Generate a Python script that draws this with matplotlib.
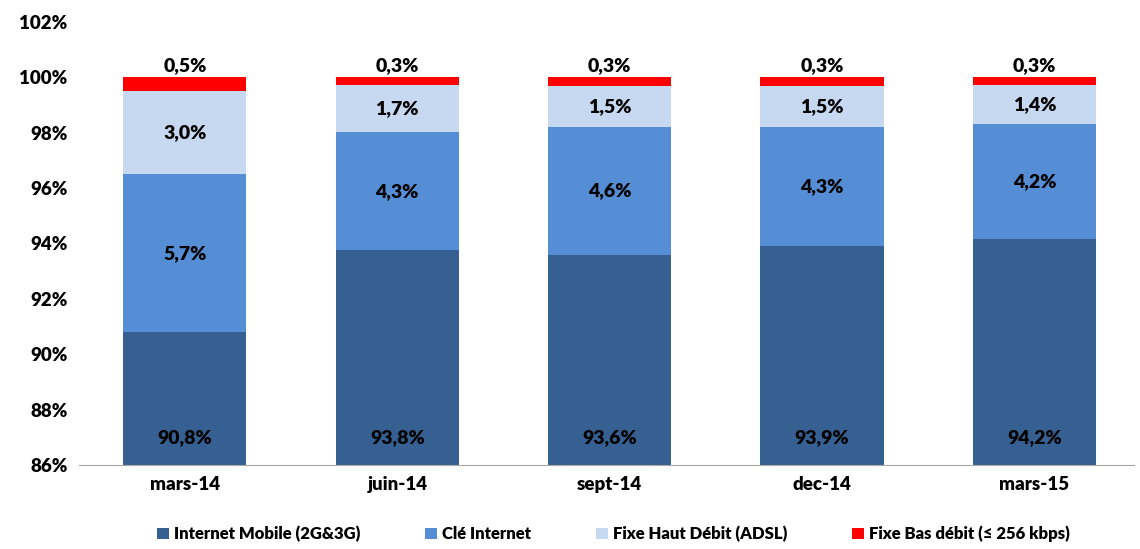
import matplotlib.pyplot as plt
import numpy as np

plt.rcParams['font.family'] = ['Lato', 'DejaVu Sans']
plt.rcParams['font.weight'] = 'heavy'

periods = ['mars-14', 'juin-14', 'sept-14', 'dec-14', 'mars-15']
mobile = [90.8, 93.76, 93.6, 93.9, 94.15]
cle = [5.7, 4.26, 4.6, 4.3, 4.15]
haut_debit = [3.0, 1.70, 1.5, 1.5, 1.42]
bas_debit = [0.5, 0.28, 0.3, 0.3, 0.28]

series = [
    ('Internet Mobile (2G&3G)', mobile, '#376092'),
    ('Clé Internet', cle, '#558ED5'),
    ('Fixe Haut Débit (ADSL)', haut_debit, '#C6D9F1'),
    ('Fixe Bas débit (≤ 256 kbps)', bas_debit, '#FF0000'),
]

def fmt(v):
    return f'{v:.1f}%'.replace('.', ',')

fig = plt.figure(figsize=(11.4, 5.49), dpi=100)
ax = fig.add_axes([0.069, 0.153, 0.926, 0.807])

x = np.arange(len(periods))
width = 0.58
lab = dict(fontsize=14, fontweight='heavy')
bottom = np.zeros(len(periods))
for i, (name, vals, color) in enumerate(series):
    vals = np.array(vals)
    ax.bar(x, vals, width, bottom=bottom, color=color, label=name, zorder=2)
    for xi, b, v in zip(x, bottom, vals):
        if i == 0:
            ax.text(xi, 87.0, fmt(v), ha='center', va='center', **lab)
        elif i == 3:
            ax.annotate(fmt(v), (xi, b + v), xytext=(0, 2), textcoords='offset points',
                        ha='center', va='bottom', **lab)
        else:
            ax.text(xi, b + v / 2, fmt(v), ha='center', va='center', **lab)
    bottom = bottom + vals

ax.set_ylim(86, 102)
ax.set_xlim(-0.5, 4.47)
ax.set_yticks(np.arange(86, 103, 2))
ax.set_yticklabels([f'{t}%' for t in range(86, 103, 2)], fontsize=13.5, fontweight='heavy')
ax.set_xticks(x)
ax.set_xticklabels(periods, fontsize=13.5, fontweight='heavy')
ax.tick_params(axis='both', length=0, pad=8)
for s in ['top', 'right', 'left']:
    ax.spines[s].set_visible(False)
ax.spines['bottom'].set_color('#A6A6A6')

leg = fig.legend(loc='lower center', bbox_to_anchor=(0.538, -0.015), ncol=4, frameon=False,
                 fontsize=12, handlelength=0.7, handleheight=0.7, handletextpad=0.3,
                 columnspacing=3.9)
for t in leg.get_texts():
    t.set_fontweight('heavy')

fig.savefig('out.png', dpi=100)
